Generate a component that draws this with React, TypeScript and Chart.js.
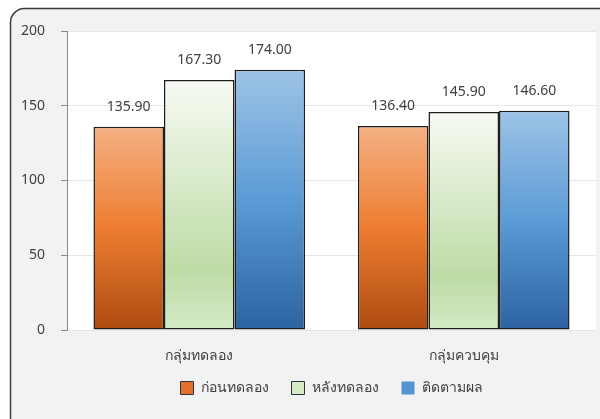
import React, { useEffect, useRef } from 'react';
import { Chart, registerables } from 'chart.js';

Chart.register(...registerables);

const categories = ['กลุ่มทดลอง', 'กลุ่มควบคุม'];
const seriesNames = ['ก่อนทดลอง', 'หลังทดลอง', 'ติดตามผล'];
const beforeValues = [135.9, 136.4];
const afterValues = [167.3, 145.9];
const followValues = [174.0, 146.6];
const yMin = 0;
const yMax = 200;
const yStep = 50;

const FONT = "'Noto Sans', Tahoma, 'DejaVu Sans', sans-serif";
const TEXT = '#404040';

type Stops = [number, string][];
const gradients: Stops[] = [
  [[0, '#f4b183'], [0.5, '#ed7d31'], [1, '#ad4b10']],
  [[0, '#f7faf3'], [0.76, '#bedca6'], [1, '#d4e9c6']],
  [[0, '#9dc3e6'], [0.5, '#5b9bd5'], [1, '#2c63a0']],
];
const legendFill = ['#e07030', '#d6eac8', '#5592d0'];
const legendBorder = [1, 1, 0];

function barGradient(si: number) {
  return (ctx: any) => {
    const chart = ctx.chart;
    const y = chart.scales && chart.scales.y;
    if (!y || ctx.type !== 'data' || typeof ctx.raw !== 'number') return legendFill[si];
    const top = y.getPixelForValue(ctx.raw);
    const bottom = y.getPixelForValue(0);
    if (!isFinite(top) || !isFinite(bottom) || top === bottom) return legendFill[si];
    const g = chart.ctx.createLinearGradient(0, top, 0, bottom);
    gradients[si].forEach(([o, c]) => g.addColorStop(o, c));
    return g;
  };
}

const framePlugin = {
  id: 'frame',
  afterLayout(chart: any) {
    const lg = chart.legend;
    const xs = chart.scales && chart.scales.x;
    if (lg && xs) {
      lg.top = xs.top + 28;
      lg.bottom = lg.top + lg.height;
    }
  },
  beforeDraw(chart: any) {
    const { ctx, chartArea } = chart;
    ctx.save();
    ctx.beginPath();
    ctx.roundRect(10.5, 8.5, 610, 430, 14);
    ctx.fillStyle = '#f2f2f2';
    ctx.fill();
    ctx.lineWidth = 1.5;
    ctx.strokeStyle = '#3c3c3c';
    ctx.stroke();
    ctx.fillStyle = '#ffffff';
    ctx.fillRect(chartArea.left, chartArea.top, chartArea.right - chartArea.left, chartArea.bottom - chartArea.top);
    ctx.restore();
  },
};

const valueLabelPlugin = {
  id: 'valueLabels',
  afterDatasetsDraw(chart: any) {
    const { ctx } = chart;
    ctx.save();
    ctx.font = `14px ${FONT}`;
    ctx.fillStyle = TEXT;
    ctx.textAlign = 'center';
    ctx.textBaseline = 'alphabetic';
    chart.data.datasets.forEach((ds: any, di: number) => {
      const meta = chart.getDatasetMeta(di);
      meta.data.forEach((el: any, i: number) => {
        ctx.fillText(Number(ds.data[i]).toFixed(2), el.x, el.y - 16);
      });
    });
    ctx.restore();
  },
};

export default function App() {
  const canvasRef = useRef<HTMLCanvasElement>(null);

  useEffect(() => {
    if (!canvasRef.current) return;
    const seriesData = [beforeValues, afterValues, followValues];
    const chart = new Chart(canvasRef.current, {
      type: 'bar',
      data: {
        labels: categories,
        datasets: seriesNames.map((name, si) => ({
          label: name,
          data: seriesData[si],
          backgroundColor: barGradient(si),
          borderColor: '#1e1e1e',
          borderWidth: 1.5,
          borderSkipped: false,
          categoryPercentage: 0.8,
          barPercentage: 1.0,
        })),
      },
      options: {
        animation: false,
        responsive: false,
        maintainAspectRatio: false,
        devicePixelRatio: 1,
        layout: { padding: { top: 31, right: 4, left: 18, bottom: 2 } },
        font: { family: FONT, size: 14 },
        plugins: {
          tooltip: { enabled: false },
          legend: {
            position: 'bottom',
            fullSize: false,
            labels: {
              boxWidth: 13,
              boxHeight: 13,
              padding: 23,
              color: TEXT,
              font: { family: FONT, size: 14 },
              generateLabels: () =>
                seriesNames.map((name, si) => ({
                  text: name,
                  fillStyle: legendFill[si],
                  strokeStyle: '#333333',
                  lineWidth: legendBorder[si],
                  hidden: false,
                  datasetIndex: si,
                  fontColor: TEXT,
                })),
            },
          },
        },
        scales: {
          x: {
            grid: { display: false },
            border: { display: false },
            ticks: { color: TEXT, padding: 10, font: { family: FONT, size: 14 } },
            afterFit: (scale: any) => {
              scale.height = 40;
            },
          },
          y: {
            min: yMin,
            max: yMax,
            ticks: { stepSize: yStep, color: TEXT, padding: 16, font: { family: FONT, size: 14 } },
            grid: { color: '#e6e6e6', tickColor: '#8a8a8a', tickLength: 6 },
            border: { display: true, color: '#8a8a8a', width: 1 },
            afterFit: (scale: any) => {
              scale.width = 49;
            },
          },
        },
      },
      plugins: [framePlugin, valueLabelPlugin],
    });
    return () => chart.destroy();
  }, []);

  return (
    <div style={{ position: 'fixed', left: 0, top: 0, width: 600, height: 419, overflow: 'hidden', background: '#ffffff' }}>
      <canvas ref={canvasRef} width={600} height={419} style={{ width: 600, height: 419, display: 'block' }} />
    </div>
  );
}
